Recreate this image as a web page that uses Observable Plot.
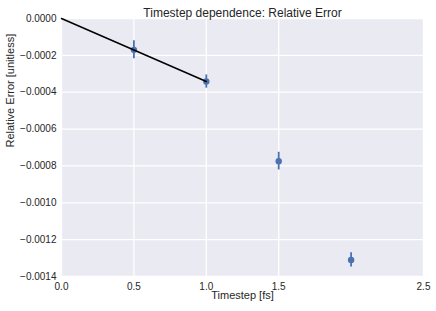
<!DOCTYPE html>
<html>
<head>
<meta charset="utf-8">
<script src="https://cdn.jsdelivr.net/npm/d3@7"></script>
<script src="https://cdn.jsdelivr.net/npm/@observablehq/plot@0.6"></script>
<style>
  html, body { margin: 0; padding: 0; background: #fff; }
  #chart svg { display: block; }
</style>
</head>
<body>
<div id="chart"></div>
<script>
const timesteps = [0.5, 1.0, 1.5, 2.0];
const relErrors = [-0.000170, -0.000342, -0.000774, -0.001310];
const errBars = [0.000049, 0.000036, 0.000048, 0.000039];
const fitX = [0.0, 1.0];
const fitY = [0.0, -0.000342];
const xTicks = [0.0, 0.5, 1.0, 1.5, 2.5];
const yTicks = [0.0000, -0.0002, -0.0004, -0.0006, -0.0008, -0.0010, -0.0012, -0.0014];
const titleText = "Timestep dependence: Relative Error";
const xLabel = "Timestep [fs]";
const yLabel = "Relative Error [unitless]";

const points = timesteps.map((t, i) => ({x: t, y: relErrors[i], lo: relErrors[i] - errBars[i], hi: relErrors[i] + errBars[i]}));
const fit = fitX.map((x, i) => ({x, y: fitY[i]}));

const blue = "#4C72B0";
const ink = "#262626";

const chart = Plot.plot({
  width: 436,
  height: 311,
  marginLeft: 61,
  marginRight: 13,
  marginTop: 18,
  marginBottom: 35,
  style: {fontFamily: "'Liberation Sans', Arial, sans-serif", fontSize: "10px", color: ink, background: "#fff"},
  x: {domain: [0, 2.5], ticks: xTicks, tickFormat: d3.format(".1f"), tickSize: 0, tickPadding: 6, label: null},
  y: {domain: [-0.0014, 0], ticks: yTicks, tickFormat: d3.format(".4f"), tickSize: 0, tickPadding: 5, label: null},
  marks: [
    Plot.frame({fill: "#EAEAF2", stroke: null}),
    Plot.gridX(xTicks, {stroke: "#fff", strokeOpacity: 1, strokeWidth: 1.3}),
    Plot.gridY(yTicks, {stroke: "#fff", strokeOpacity: 1, strokeWidth: 1.3}),
    Plot.ruleX(points, {x: "x", y1: "lo", y2: "hi", stroke: blue, strokeWidth: 1.8}),
    Plot.dot(points, {x: "x", y: "y", r: 3.2, fill: blue, stroke: null}),
    Plot.line(fit, {x: "x", y: "y", stroke: "#000", strokeWidth: 1.5}),
    Plot.text([titleText], {frameAnchor: "top", dy: -10, fontSize: 12, fill: ink}),
    Plot.text([xLabel], {frameAnchor: "bottom", dy: 22, fontSize: 11, fill: ink}),
    Plot.text([yLabel], {frameAnchor: "left", dx: -51, rotate: -90, fontSize: 11, fill: ink})
  ]
});
document.getElementById("chart").appendChild(chart);
</script>
</body>
</html>
